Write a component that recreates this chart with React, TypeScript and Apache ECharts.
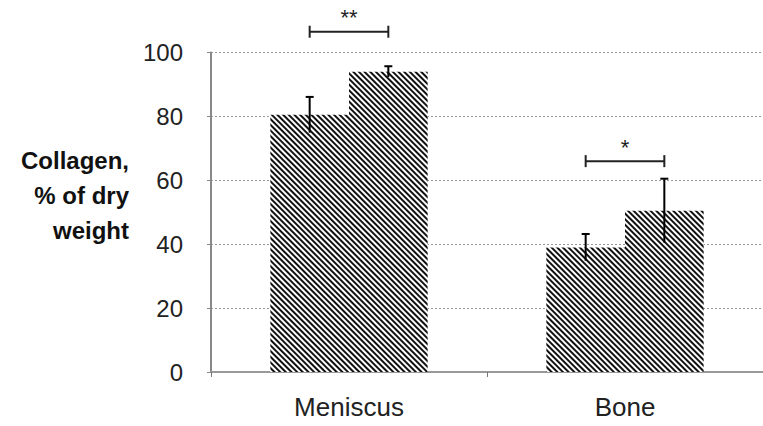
import React, { useEffect, useRef } from "react";
import * as echarts from "echarts";

const categories = ["Meniscus", "Bone"];
const groupA = [80.5, 39];
const groupB = [94, 50.5];
const errA = [5.6, 4.2];
const errB = [1.7, 10];
const sigLevel = [106.5, 66];
const sigLabels = ["**", "*"];
const yTicks = [0, 20, 40, 60, 80, 100];
const yTitleLines = ["Collagen,", "% of dry", "weight"];

const CAT_GAP = 0.43;

export default function App() {
  const ref = useRef<HTMLDivElement>(null);
  useEffect(() => {
    const chart = echarts.init(ref.current!, null, { renderer: "svg" });
    const decal = {
      symbol: "rect",
      color: "#111",
      dashArrayX: [1, 0],
      dashArrayY: [2, 1.6],
      rotation: Math.PI / 4,
      symbolSize: 1,
    };
    const errData: number[][] = [];
    categories.forEach((_, i) => {
      errData.push([i, groupA[i], errA[i], -1]);
      errData.push([i, groupB[i], errB[i], 1]);
    });
    const sigData = categories.map((_, i) => [i, sigLevel[i]]);
    const font = "Liberation Sans, Arial, sans-serif";
    chart.setOption({
      animation: false,
      grid: { left: 211, right: 0, top: 52.5, bottom: 54, containLabel: false },
      xAxis: {
        type: "category",
        data: categories,
        axisLine: { lineStyle: { color: "#999", width: 2 } },
        axisTick: { show: true, length: 5, lineStyle: { color: "#777" } },
        axisLabel: { fontSize: 26, color: "#222", fontFamily: font, margin: 22 },
      },
      yAxis: {
        type: "value",
        min: 0,
        max: 100,
        interval: 20,
        axisLine: { show: true, lineStyle: { color: "#888", width: 2 } },
        axisTick: { show: true, length: 4, lineStyle: { color: "#888" } },
        axisLabel: {
          fontSize: 24,
          color: "#222",
          fontFamily: font,
          margin: 28,
          formatter: (v: number) => (yTicks.includes(v) ? String(v) : ""),
        },
        splitLine: { show: true, lineStyle: { color: "#999", type: [2, 2], width: 1 } },
      },
      series: [
        {
          type: "bar",
          data: groupA,
          barGap: "0%",
          barCategoryGap: CAT_GAP * 100 + "%",
          itemStyle: { color: "#fff", decal },
        },
        {
          type: "bar",
          data: groupB,
          barGap: "0%",
          barCategoryGap: CAT_GAP * 100 + "%",
          itemStyle: { color: "#fff", decal },
        },
        {
          type: "custom",
          data: errData,
          z: 10,
          renderItem: (params: any, api: any) => {
            const cat = api.value(0);
            const mean = api.value(1);
            const e = api.value(2);
            const side = api.value(3);
            const band = api.size([1, 0])[0];
            const bw = (band * (1 - CAT_GAP)) / 2;
            const x = api.coord([cat, mean])[0] + (side * bw) / 2;
            const top = api.coord([cat, mean + e])[1];
            const bot = api.coord([cat, mean - e])[1];
            const st = { stroke: "#000", lineWidth: 2 };
            return {
              type: "group",
              children: [
                { type: "line", shape: { x1: x, y1: top, x2: x, y2: bot }, style: st },
                { type: "line", shape: { x1: x - 4, y1: top, x2: x + 4, y2: top }, style: st },
              ],
            };
          },
        },
        {
          type: "custom",
          data: sigData,
          z: 10,
          clip: false,
          renderItem: (params: any, api: any) => {
            const cat = api.value(0);
            const lvl = api.value(1);
            const band = api.size([1, 0])[0];
            const bw = (band * (1 - CAT_GAP)) / 2;
            const c = api.coord([cat, lvl]);
            const x1 = c[0] - bw / 2;
            const x2 = c[0] + bw / 2;
            const y = c[1];
            const st = { stroke: "#222", lineWidth: 2 };
            return {
              type: "group",
              children: [
                { type: "line", shape: { x1, y1: y, x2, y2: y }, style: st },
                { type: "line", shape: { x1, y1: y - 6, x2: x1, y2: y + 6 }, style: st },
                { type: "line", shape: { x1: x2, y1: y - 6, x2, y2: y + 6 }, style: st },
                {
                  type: "text",
                  style: {
                    text: sigLabels[params.dataIndex],
                    x: c[0],
                    y: y - 3,
                    align: "center",
                    verticalAlign: "bottom",
                    fontSize: 22,
                    fontFamily: font,
                    fill: "#222",
                  },
                },
              ],
            };
          },
        },
      ],
      graphic: yTitleLines.map((t, i) => ({
        type: "text",
        x: 129,
        y: 160 + i * 35,
        style: {
          text: t,
          align: "right",
          verticalAlign: "middle",
          fontSize: 24,
          fontWeight: "bold",
          fontFamily: font,
          fill: "#111",
        },
      })),
    });
    return () => chart.dispose();
  }, []);
  return <div ref={ref} style={{ width: 763, height: 426, position: "absolute", left: 0, top: 0 }} />;
}
